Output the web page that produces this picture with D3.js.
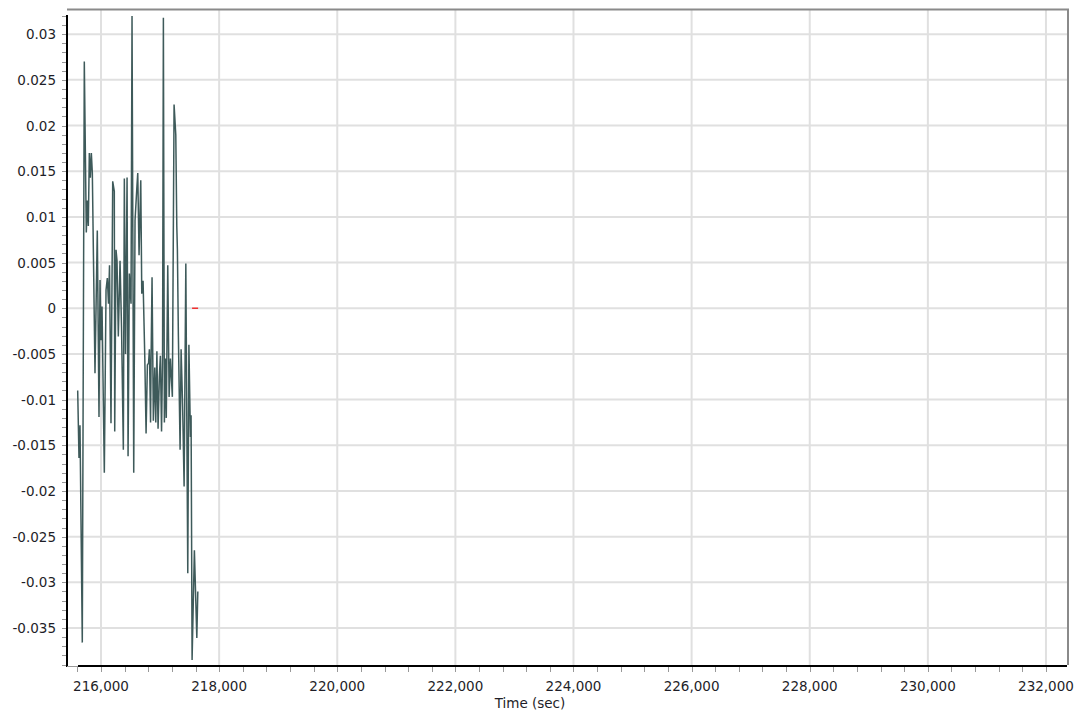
<!DOCTYPE html>
<html>
<head>
<meta charset="utf-8">
<script src="https://cdn.jsdelivr.net/npm/d3@7"></script>
<style>
  body { margin: 0; background: #fff; }
  text { font-family: "DejaVu Sans", Verdana, sans-serif; }
</style>
</head>
<body>
<div id="chart"></div>
<script>
// signal trace (time in sec, value)
const times = [
  215605, 215627, 215644, 215683, 215717, 215751, 215768, 215785, 215802, 215819,
  215836, 215853, 215898, 215937, 215966, 215983, 216000, 216017, 216056, 216085,
  216107, 216127, 216144, 216169, 216198, 216225, 216232, 216254, 216271, 216293,
  216322, 216347, 216378, 216395, 216415, 216441, 216458, 216480, 216508, 216525,
  216554, 216576, 216605, 216622, 216644, 216673, 216690, 216712, 216741, 216763,
  216785, 216805, 216819, 216839, 216847, 216864, 216886, 216910, 216927, 216946,
  216966, 216988, 217005, 217025, 217042, 217056, 217073, 217090, 217105, 217130,
  217153, 217175, 217208, 217237, 217266, 217283, 217293, 217310, 217339, 217356,
  217381, 217407, 217436, 217469, 217488, 217514, 217525, 217542, 217581, 217622,
  217639
]
const values = [
  -0.009, -0.0164, -0.0128, -0.0366, 0.027, 0.0083, 0.0118, 0.009, 0.017, 0.0143,
  0.017, 0.0148, -0.0071, 0.0085, -0.0119, 0.0031, -0.0035, 0.0002, -0.018, 0.002,
  0.0033, 0.0005, 0.0047, -0.0126, 0.0139, 0.0128, -0.0135, 0.0064, 0.0052, -0.0031,
  0.0052, -0.002, -0.0155, 0.0142, -0.005, 0.0143, -0.0162, 0.0038, 0.0005, 0.032,
  -0.018, 0.0096, 0.013, 0.0148, 0.0058, 0.014, 0.0016, 0.003, -0.0053, -0.0137,
  -0.0062, -0.006, -0.0045, -0.0125, -0.006, 0.0034, -0.0123, -0.0065, -0.0125, -0.0047,
  -0.0132, -0.0075, -0.0052, -0.0135, -0.0052, 0.0318, -0.0125, -0.0055, -0.012, 0.0047,
  -0.0097, -0.0055, -0.0097, 0.0223, 0.019, 0.009, 0.0065, -0.003, -0.0155, -0.0045,
  -0.0105, -0.0195, 0.0049, -0.029, -0.004, -0.0141, -0.0117, -0.0385, -0.0265, -0.0361,
  -0.031
]

// small red marker segment
const markerTimes = [217542, 217644]
const markerValues = [0, 0]

const xTickValues = [216000, 218000, 220000, 222000, 224000, 226000, 228000, 230000, 232000]
const yTickValues = [0.03, 0.025, 0.02, 0.015, 0.01, 0.005, 0, -0.005, -0.01, -0.015, -0.02, -0.025, -0.03, -0.035]
const xTitle = "Time (sec)"

const width = 1077
const height = 713

const svg = d3.select("#chart")
  .append("svg")
  .attr("width", width)
  .attr("height", height)

const plotLeft = 67, plotRight = 1068, plotTop = 15, plotBottom = 665

const x = d3.scaleLinear()
  .domain([215424, 232373])
  .range([plotLeft, plotRight])

const y = d3.scaleLinear()
  .domain([0.0321, -0.03905])
  .range([plotTop, plotBottom])

const loc = d3.formatLocale({ decimal: ".", thousands: ",", grouping: [3], currency: ["$", ""], minus: "-" })
const fx = loc.format(",")
const fy = loc.format(".3~f")

//grid
svg.append("g")
  .selectAll("line")
  .data(xTickValues)
  .join("line")
  .attr("x1", d => x(d)).attr("x2", d => x(d))
  .attr("y1", 9).attr("y2", plotBottom)
  .attr("stroke", "#e0e0e0")
  .attr("stroke-width", 2)

svg.append("g")
  .selectAll("line")
  .data(yTickValues)
  .join("line")
  .attr("x1", plotLeft).attr("x2", plotRight)
  .attr("y1", d => y(d)).attr("y2", d => y(d))
  .attr("stroke", "#e0e0e0")
  .attr("stroke-width", 2)

// frame top / right
svg.append("path")
  .attr("d", `M${plotLeft},9.5H${plotRight}V${plotBottom}`)
  .attr("fill", "none")
  .attr("stroke", "#8a8a8a")
  .attr("stroke-width", 2)

// minor ticks
const yMinor = d3.range(-39, 33).map(d => d / 1000)
svg.append("g")
  .selectAll("line")
  .data(yMinor)
  .join("line")
  .attr("x1", plotLeft - 5).attr("x2", plotLeft)
  .attr("y1", d => Math.round(y(d)) + 0.5).attr("y2", d => Math.round(y(d)) + 0.5)
  .attr("stroke", "#999")

const xMinor = d3.range(215600, 232400, 400)
svg.append("g")
  .selectAll("line")
  .data(xMinor)
  .join("line")
  .attr("x1", d => Math.round(x(d)) + 0.5).attr("x2", d => Math.round(x(d)) + 0.5)
  .attr("y1", plotBottom + 2).attr("y2", plotBottom + 7)
  .attr("stroke", "#999")

// axis lines
svg.append("line")
  .attr("x1", plotLeft).attr("x2", plotLeft)
  .attr("y1", plotTop).attr("y2", plotBottom + 2)
  .attr("stroke", "#000")
  .attr("stroke-width", 2)
svg.append("line")
  .attr("x1", plotLeft).attr("x2", 78)
  .attr("y1", plotBottom + 1.5).attr("y2", plotBottom + 1.5)
  .attr("stroke", "#999")
  .attr("stroke-width", 1)
svg.append("line")
  .attr("x1", 78).attr("x2", plotRight - 1)
  .attr("y1", plotBottom + 1).attr("y2", plotBottom + 1)
  .attr("stroke", "#000")
  .attr("stroke-width", 2)

// tick labels
svg.append("g")
  .selectAll("text")
  .data(yTickValues)
  .join("text")
  .attr("x", 56)
  .attr("y", d => y(d) + 5)
  .attr("text-anchor", "end")
  .style("font-size", "13.5px")
  .style("fill", "#1e1e28")
  .text(d => fy(d))

svg.append("g")
  .selectAll("text")
  .data(xTickValues)
  .join("text")
  .attr("x", d => x(d))
  .attr("y", 691)
  .attr("text-anchor", "middle")
  .style("font-size", "13.5px")
  .style("fill", "#1e1e28")
  .text(d => fx(d))

svg.append("text")
  .attr("x", 530)
  .attr("y", 708)
  .attr("text-anchor", "middle")
  .style("font-size", "13.5px")
  .style("fill", "#1e1e28")
  .text(xTitle)

// data line
const series = times.map((t, i) => ({ t: t, v: values[i] }))
const line = d3.line()
  .x(d => x(d.t))
  .y(d => y(d.v))

svg.append("path")
  .datum(series)
  .attr("d", line)
  .attr("fill", "none")
  .attr("stroke", "#3e5a5a")
  .attr("stroke-width", 1.5)
  .attr("stroke-linejoin", "miter")

const marker = markerTimes.map((t, i) => ({ t: t, v: markerValues[i] }))
svg.append("path")
  .datum(marker)
  .attr("d", line)
  .attr("fill", "none")
  .attr("stroke", "#f03030")
  .attr("stroke-width", 1.5)
</script>
</body>
</html>
